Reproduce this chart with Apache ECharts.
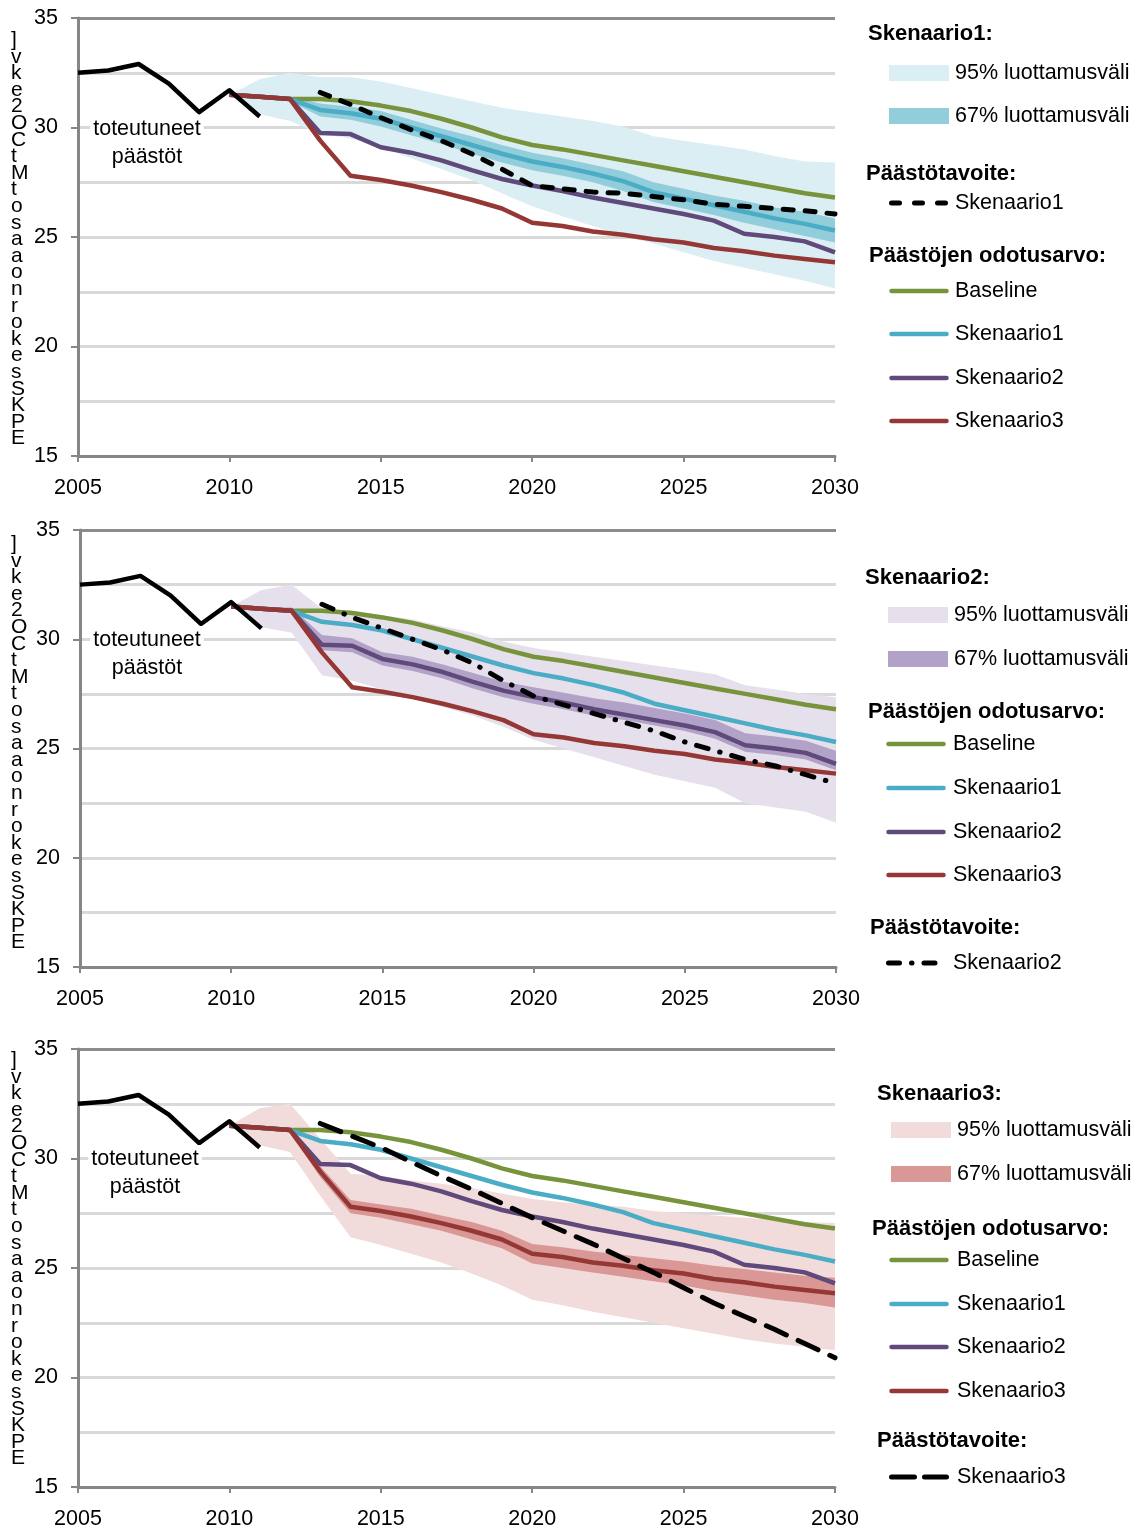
<!DOCTYPE html>
<html>
<head>
<meta charset="utf-8">
<script src="https://cdn.jsdelivr.net/npm/echarts@6/dist/echarts.min.js"></script>
<style>
html,body{margin:0;padding:0;background:#fff;}
#chart{width:1145px;height:1530px;}
</style>
</head>
<body>
<div id="chart"></div>
<script>
// ---------- categories / ticks ----------
const years = ['2005','2006','2007','2008','2009','2010','2011','2012','2013','2014','2015','2016','2017','2018','2019','2020','2021','2022','2023','2024','2025','2026','2027','2028','2029','2030'];
const yTickValues = [15, 20, 25, 30, 35];

// ---------- observed emissions (2005-2011) ----------
const historicalStart = '2005';
const historical = [32.5, 32.6, 32.9, 32.0, 30.7, 31.7, 30.5];

// ---------- expected emissions (2010-2030) ----------
const scenStart = '2010';
const baseline   = [31.5, 31.4, 31.3, 31.3, 31.2, 31.0, 30.75, 30.4, 30.0, 29.55, 29.2, 29.0, 28.75, 28.5, 28.25, 28.0, 27.75, 27.5, 27.25, 27.0, 26.8];
const skenaario1 = [31.5, 31.4, 31.3, 30.8, 30.65, 30.4, 30.0, 29.6, 29.2, 28.8, 28.45, 28.2, 27.9, 27.55, 27.05, 26.75, 26.45, 26.15, 25.85, 25.6, 25.3];
const skenaario2 = [31.5, 31.4, 31.3, 29.75, 29.7, 29.1, 28.85, 28.5, 28.05, 27.65, 27.35, 27.1, 26.8, 26.55, 26.3, 26.05, 25.75, 25.15, 25.0, 24.8, 24.3];
const skenaario3 = [31.5, 31.4, 31.3, 29.4, 27.8, 27.6, 27.35, 27.05, 26.7, 26.3, 25.65, 25.5, 25.25, 25.1, 24.9, 24.75, 24.5, 24.35, 24.15, 24.0, 23.85];

// ---------- confidence intervals (2010-2030) ----------
const s1Low95  = [31.5, 30.6, 30.3, 29.7, 29.5, 29.1, 28.6, 28.1, 27.6, 27.0, 26.4, 25.95, 25.5, 25.05, 24.7, 24.3, 23.9, 23.6, 23.3, 23.0, 22.65];
const s1High95 = [31.5, 32.2, 32.5, 32.3, 32.3, 32.1, 31.8, 31.5, 31.2, 30.9, 30.7, 30.5, 30.3, 30.05, 29.6, 29.4, 29.2, 29.0, 28.7, 28.45, 28.4];
const s1Low67  = [31.5, 31.35, 31.2, 30.5, 30.35, 30.05, 29.65, 29.25, 28.8, 28.4, 28.05, 27.8, 27.5, 27.1, 26.6, 26.3, 26.0, 25.65, 25.35, 25.05, 24.75];
const s1High67 = [31.5, 31.45, 31.4, 31.1, 30.95, 30.75, 30.35, 29.95, 29.6, 29.2, 28.85, 28.6, 28.3, 28.0, 27.5, 27.2, 26.9, 26.65, 26.35, 26.15, 25.85];

const s2Low95  = [31.5, 30.55, 30.3, 28.35, 28.1, 27.7, 27.3, 26.9, 26.5, 26.0, 25.4, 25.0, 24.6, 24.2, 23.8, 23.5, 23.2, 22.5, 22.3, 22.1, 21.6];
const s2High95 = [31.5, 32.25, 32.5, 31.4, 31.3, 31.1, 30.9, 30.6, 30.3, 29.9, 29.6, 29.4, 29.2, 29.0, 28.8, 28.6, 28.4, 27.9, 27.7, 27.5, 27.35];
const s2Low67  = [31.5, 31.35, 31.2, 29.5, 29.4, 28.8, 28.55, 28.2, 27.75, 27.35, 27.05, 26.8, 26.5, 26.3, 26.05, 25.8, 25.45, 24.85, 24.7, 24.5, 24.0];
const s2High67 = [31.5, 31.45, 31.45, 30.2, 30.05, 29.4, 29.2, 28.85, 28.45, 28.05, 27.8, 27.55, 27.3, 27.1, 26.85, 26.6, 26.3, 25.7, 25.55, 25.35, 24.9];

const s3Low95  = [31.5, 30.6, 30.3, 28.3, 26.4, 26.05, 25.65, 25.25, 24.75, 24.2, 23.55, 23.3, 23.0, 22.75, 22.5, 22.25, 22.0, 21.75, 21.55, 21.4, 21.25];
const s3High95 = [31.5, 32.3, 32.5, 30.9, 29.3, 29.2, 29.0, 28.85, 28.65, 28.4, 28.15, 28.0, 27.9, 27.8, 27.6, 27.5, 27.4, 27.3, 27.2, 27.1, 27.05];
const s3Low67  = [31.5, 31.35, 31.2, 29.15, 27.5, 27.3, 27.0, 26.7, 26.3, 25.9, 25.2, 25.0, 24.8, 24.6, 24.4, 24.2, 23.95, 23.75, 23.55, 23.4, 23.2];
const s3High67 = [31.5, 31.45, 31.4, 29.65, 28.1, 27.9, 27.7, 27.4, 27.1, 26.7, 26.1, 25.95, 25.75, 25.6, 25.45, 25.3, 25.1, 24.95, 24.8, 24.65, 24.55];

// ---------- emission targets (2013-2030) ----------
const targetStart = '2013';
const target1 = [31.6, 31.05, 30.45, 29.9, 29.4, 28.8, 28.1, 27.35, 27.2, 27.05, 27.0, 26.85, 26.7, 26.5, 26.4, 26.3, 26.2, 26.05];
const target2 = [31.6, 31.0, 30.5, 30.0, 29.5, 28.9, 28.1, 27.4, 27.0, 26.6, 26.2, 25.8, 25.3, 24.9, 24.5, 24.2, 23.8, 23.4];
const target3 = [31.6, 31.05, 30.5, 29.85, 29.2, 28.6, 27.95, 27.3, 26.7, 26.1, 25.45, 24.8, 24.1, 23.4, 22.8, 22.2, 21.55, 20.9];

// ---------- texts ----------
const yTitleChars = [']','v','k','e','2','O','C','t','M','t','o','s','a','a','o','n','r','o','k','e','s','S','K','P','E'];
const observedLabel = 'toteutuneet\npäästöt';
const ciLabels = ['95% luottamusväli', '67% luottamusväli'];
const seriesLabels = ['Baseline', 'Skenaario1', 'Skenaario2', 'Skenaario3'];
const panelTitles = ['Skenaario1:', 'Skenaario2:', 'Skenaario3:'];
const targetHeading = 'Päästötavoite:';
const expectedHeading = 'Päästöjen odotusarvo:';

// ---------- styling ----------
const FONT = '"Liberation Sans", Arial, sans-serif';
const C = {
  baseline: '#77933C', s1: '#4BACC6', s2: '#604A7B', s3: '#953735',
  grid: '#D9D9D9', axis: '#868686'
};
const bandColors = [
  ['#DAEEF3', '#92CDDC'],
  ['#E6E0EC', '#B3A2C7'],
  ['#F2DCDB', '#D99795']
];
const targetDash = [[10, 12], [12, 12, 0.5, 12], [22, 13]];
const grids = [
  {left: 78, top: 18, width: 757, height: 438},
  {left: 80, top: 530, width: 756, height: 437},
  {left: 78, top: 1049, width: 757, height: 438}
];

function pad(arr, start) {
  const out = years.map(() => null);
  const s = years.indexOf(start);
  arr.forEach((v, i) => { out[s + i] = v; });
  return out;
}
function diff(hi, lo) { return hi.map((v, i) => +(v - lo[i]).toFixed(3)); }

const bands = [
  [[s1Low95, s1High95], [s1Low67, s1High67]],
  [[s2Low95, s2High95], [s2Low67, s2High67]],
  [[s3Low95, s3High95], [s3Low67, s3High67]]
];
const targets = [target1, target2, target3];

const xAxes = [], yAxes = [], series = [];
grids.forEach((g, p) => {
  xAxes.push({
    gridIndex: p, type: 'category', data: years, boundaryGap: false,
    axisLine: {show: true, lineStyle: {color: C.axis, width: 3}},
    axisTick: {show: true, interval: 4, length: 6, lineStyle: {color: C.axis, width: 2}},
    axisLabel: {interval: 4, color: '#000', fontFamily: FONT, fontSize: 21.5, margin: 21},
    splitLine: {show: false}
  });
  yAxes.push({
    gridIndex: p, type: 'value', min: yTickValues[0], max: yTickValues[yTickValues.length - 1], interval: 5,
    axisLine: {show: true, lineStyle: {color: C.axis, width: 3}},
    axisTick: {show: true, length: 7, lineStyle: {color: C.axis, width: 2}},
    axisLabel: {color: '#000', fontFamily: FONT, fontSize: 21.5, margin: 20},
    splitLine: {show: true, lineStyle: {color: [C.grid, C.grid, C.grid, C.grid, '#8C8C8C'], width: 3}},
    minorTick: {show: false, splitNumber: 2},
    minorSplitLine: {show: true, lineStyle: {color: C.grid, width: 3}}
  });
  // bands
  bands[p].forEach((b, k) => {
    const [lo, hi] = b;
    const stack = 'band' + p + '_' + k;
    series.push({
      type: 'line', xAxisIndex: p, yAxisIndex: p, stack: stack, symbol: 'none', silent: true, z: 1,
      lineStyle: {opacity: 0, width: 0}, data: pad(lo, scenStart)
    });
    series.push({
      type: 'line', xAxisIndex: p, yAxisIndex: p, stack: stack, symbol: 'none', silent: true, z: 1,
      lineStyle: {opacity: 0, width: 0},
      areaStyle: {color: bandColors[p][k], opacity: 1},
      data: pad(diff(hi, lo), scenStart)
    });
  });
  // expected emissions
  [[baseline, C.baseline], [skenaario1, C.s1], [skenaario2, C.s2], [skenaario3, C.s3]].forEach(([d, col]) => {
    series.push({
      type: 'line', xAxisIndex: p, yAxisIndex: p, symbol: 'none', silent: true, z: 2,
      lineStyle: {color: col, width: 4.5, join: 'round'}, data: pad(d, scenStart)
    });
  });
  // target
  series.push({
    type: 'line', xAxisIndex: p, yAxisIndex: p, symbol: 'none', silent: true, z: 3,
    lineStyle: {color: '#000', width: 5, type: targetDash[p], cap: 'round'},
    data: pad(targets[p], targetStart)
  });
  // observed
  series.push({
    type: 'line', xAxisIndex: p, yAxisIndex: p, symbol: 'none', silent: true, z: 3,
    lineStyle: {color: '#000', width: 4.5, join: 'round'}, data: pad(historical, historicalStart)
  });
});

// ---------- legends & annotations (graphic) ----------
const graphic = [];
function txt(x, y, text, opts) {
  graphic.push({type: 'text', silent: true, z: 100, style: Object.assign({
    text: text, x: x, y: y, fill: '#000', fontFamily: FONT, fontSize: 21.5,
    align: 'left', verticalAlign: 'middle'
  }, opts || {})});
}
function head(x, y, text) { txt(x, y, text, {fontWeight: 'bold', fontSize: 22}); }
function swatch(x, y, col, text) {
  graphic.push({type: 'rect', silent: true, shape: {x: x, y: y - 8, width: 60, height: 16}, style: {fill: col}});
  txt(x + 66, y, text);
}
function lineItem(x, y, col, text, dash, tx) {
  graphic.push({type: 'line', silent: true,
    shape: {x1: x + 2.5, y1: y, x2: x + 57.5, y2: y},
    style: {stroke: col, lineWidth: dash ? 5 : 4.5, lineCap: 'round', lineDash: dash || null}});
  txt(tx !== undefined ? tx : x + 66, y, text);
}
const lineCols = [C.baseline, C.s1, C.s2, C.s3];
const legendDash = [[8, 15], [11, 12, 0.5, 12], [23, 10]];

// panel 1
head(868, 34, panelTitles[0]);
swatch(889, 73, bandColors[0][0], ciLabels[0]);
swatch(889, 116, bandColors[0][1], ciLabels[1]);
head(866, 174, targetHeading);
lineItem(889, 203, '#000', seriesLabels[1], legendDash[0]);
head(869, 256, expectedHeading);
[291, 334, 378, 421].forEach((y, i) => lineItem(889, y, lineCols[i], seriesLabels[i]));

// panel 2
head(865, 578, panelTitles[1]);
swatch(888, 615, bandColors[1][0], ciLabels[0]);
swatch(888, 659, bandColors[1][1], ciLabels[1]);
head(868, 712, expectedHeading);
[744, 788, 832, 875].forEach((y, i) => lineItem(886, y, lineCols[i], seriesLabels[i], null, 953));
head(870, 928, targetHeading);
lineItem(886, 963, '#000', seriesLabels[2], legendDash[1], 953);

// panel 3
head(877, 1094, panelTitles[2]);
swatch(891, 1130, bandColors[2][0], ciLabels[0]);
swatch(891, 1174, bandColors[2][1], ciLabels[1]);
head(872, 1229, expectedHeading);
[1260, 1304, 1347, 1391].forEach((y, i) => lineItem(889, y, lineCols[i], seriesLabels[i], null, 957));
head(877, 1441, targetHeading);
lineItem(889, 1477, '#000', seriesLabels[3], legendDash[2], 957);

// observed label (white box hides grid line behind it) and y-axis titles
[[147, 143], [147, 654], [145, 1173]].forEach(([x, y]) => {
  txt(x, y, observedLabel, {align: 'center', lineHeight: 28, backgroundColor: '#fff', padding: [0, 3]});
});
[32, 536, 1052].forEach(top => {
  txt(11, top, yTitleChars.join('\n'), {verticalAlign: 'top', fontSize: 21, lineHeight: 16.6});
});

const chart = echarts.init(document.getElementById('chart'), null, {renderer: 'canvas'});
chart.setOption({
  animation: false,
  backgroundColor: '#fff',
  grid: grids,
  xAxis: xAxes,
  yAxis: yAxes,
  series: series,
  graphic: graphic
});
</script>
</body>
</html>
